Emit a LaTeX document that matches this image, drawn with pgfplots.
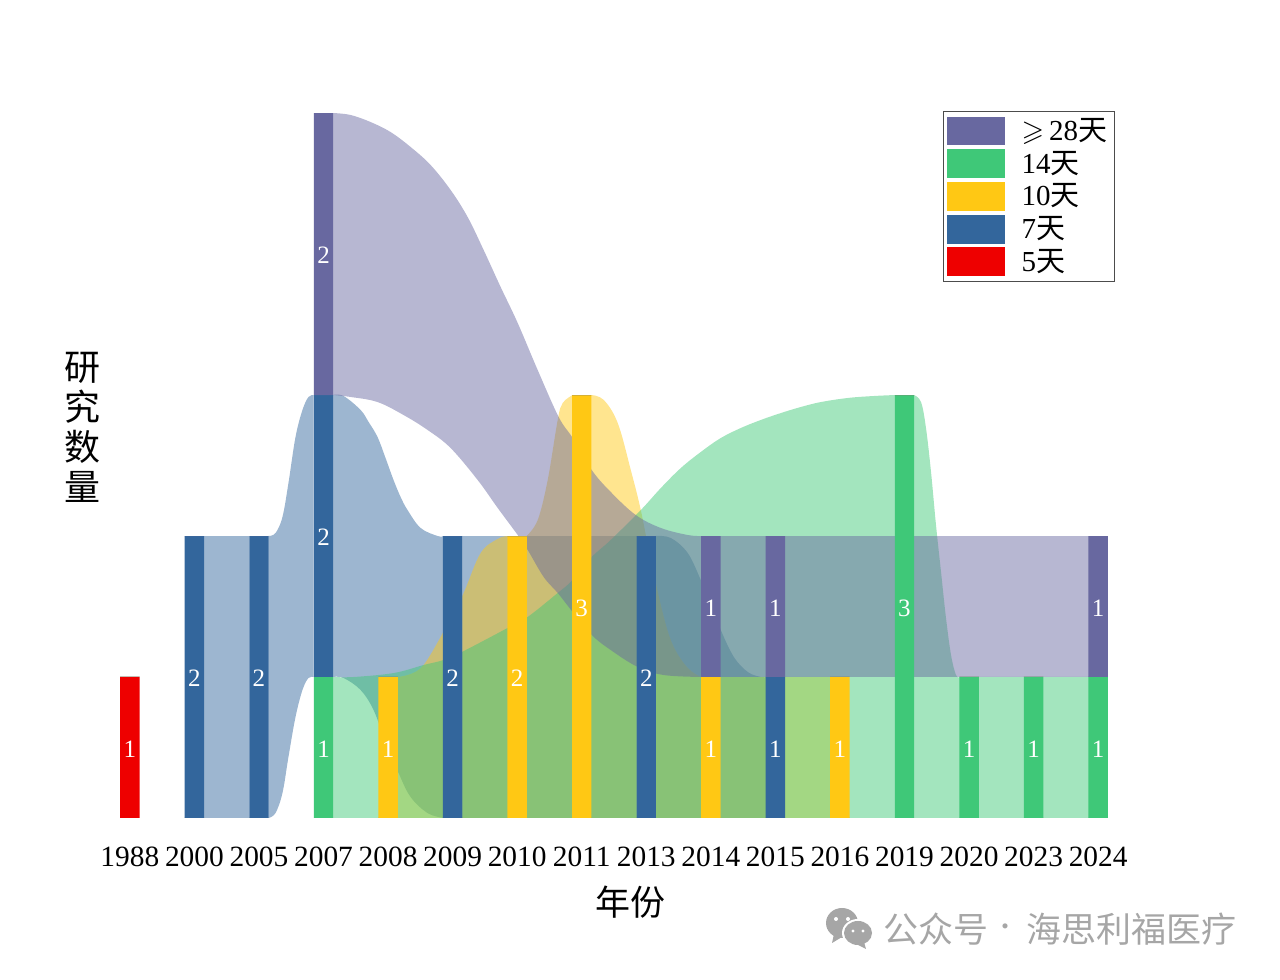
\documentclass[border=0pt]{standalone}
\usepackage{amssymb}
\usepackage{fontspec}
\usepackage{pgfplots}
\usepackage{pgfplotstable}
\pgfplotsset{compat=1.18}
\usepgfplotslibrary{fillbetween}
\setmainfont{Liberation Serif}
\newfontfamily\cjk{Noto Sans CJK SC}

\definecolor{c28}{HTML}{6868A0}
\definecolor{c14}{HTML}{3FC878}
\definecolor{c10}{HTML}{FFC814}
\definecolor{c7}{HTML}{33669C}
\definecolor{c5}{HTML}{EE0000}
\definecolor{wm}{HTML}{A6A6A6}

% number of studies per year, stacked from the bottom
\pgfplotstableread{
i d5 d14 d10 d7 d28
0 1 0 0 0 0
1 0 0 0 2 0
2 0 0 0 2 0
3 0 1 0 2 2
4 0 0 1 0 0
5 0 0 0 2 0
6 0 0 2 0 0
7 0 0 3 0 0
8 0 0 0 2 0
9 0 0 1 0 1
10 0 0 0 1 1
11 0 0 1 0 0
12 0 3 0 0 0
13 0 1 0 0 0
14 0 1 0 0 0
15 0 1 0 0 1
}\counts

% flow band: name, colour, upper edge, lower edge
\newcommand{\flow}[4]{%
  \addplot[name path=#1t,draw=none,smooth,tension=0.6,forget plot] coordinates {#3};
  \addplot[name path=#1b,draw=none,smooth,tension=0.6,forget plot] coordinates {#4};
  \addplot[fill=#2,fill opacity=0.48,draw=none,forget plot] fill between[of=#1t and #1b];
}
\newcommand{\seg}[3]{\node[text=white,yshift=-0.7pt,font=\fontsize{12.5}{14}\selectfont] at (axis cs:#1,#2) {#3};}

\begin{document}
\begin{tikzpicture}
\begin{axis}[
  at={(32.65pt,81pt)},anchor=south west,
  scale only axis,width=548.7pt,height=352.5pt,
  xmin=-1,xmax=16,ymin=0,ymax=5,
  axis line style={draw=none},
  major tick style={draw=none},
  ytick=\empty,
  xtick={0,...,15},
  xticklabels={1988,2000,2005,2007,2008,2009,2010,2011,2013,2014,2015,2016,2019,2020,2023,2024},
  xticklabel style={font=\fontsize{14.7}{16}\selectfont,text=black,yshift=-11pt},
  legend style={at={(0.8,1.003)},anchor=north west,draw=black!70,line width=0.5pt,
    font=\fontsize{14.5}{16}\selectfont,inner sep=1.5pt,row sep=-0.2pt,
    legend cell align=left,/tikz/every odd column/.append style={column sep=6.5pt}},
  legend image code/.code={\fill[draw=none,#1] (-0.5pt,-7.2pt) rectangle (28.5pt,7.2pt);},
]
% 7 days
\flow{ba}{c7}{(1.15,2)(1.85,2)}{(1.15,0)(1.85,0)}
\flow{bb}{c7}{(2.147,2)(2.256,2.021)(2.364,2.135)(2.457,2.376)(2.566,2.702)(2.674,2.894)(2.767,2.986)(2.845,3)}
  {(2.147,0)(2.256,0.035)(2.364,0.177)(2.457,0.433)(2.566,0.716)(2.674,0.908)(2.767,0.993)(2.845,1)}
\flow{bc}{c7}{(3.145,3)(3.310,2.993)(3.574,2.894)(3.698,2.809)(3.837,2.702)(3.961,2.553)(4.085,2.397)(4.194,2.277)(4.302,2.184)(4.504,2.057)(4.767,2)(4.860,2)}
  {(3.145,1)(3.310,0.993)(3.574,0.908)(3.775,0.766)(3.961,0.539)(4.163,0.319)(4.349,0.149)(4.612,0.035)(4.860,0)}
\flow{bd}{c7}{(5.15,2)(7.85,2)}{(5.15,0)(7.85,0)}
\flow{be}{c7}{(8.145,2)(8.380,1.986)(8.643,1.879)(8.845,1.688)(9.016,1.511)(9.155,1.333)(9.357,1.142)(9.574,1.035)(9.775,1)(9.853,1)}
  {(8.145,0)(9.853,0)}
% 10 days
\flow{ya}{c10}{(4.145,1)(4.349,1.021)(4.550,1.085)(4.814,1.284)(5.0,1.454)(5.171,1.596)(5.434,1.879)(5.698,1.979)(5.853,2)}
  {(4.145,0)(5.853,0)}
\flow{yb}{c10}{(6.145,2)(6.318,2.113)(6.473,2.397)(6.628,2.823)(6.705,2.943)(6.860,3)}{(6.145,0)(6.860,0)}
\flow{yc}{c10}{(7.145,3)(7.341,2.965)(7.558,2.801)(7.760,2.468)(7.915,2.184)(8.070,1.830)(8.271,1.426)(8.426,1.213)(8.643,1.064)(8.845,1)}
  {(7.145,0)(8.845,0)}
\flow{yd}{c10}{(9.15,1)(10.85,1)}{(9.15,0)(10.85,0)}
% 14 days
\flow{ga}{c14}{(3.145,1)(3.465,1)(4.085,1.028)(4.550,1.085)(4.860,1.121)(5.171,1.184)(5.853,1.348)(6.163,1.426)(6.628,1.596)(6.860,1.688)(7.155,1.851)(7.450,1.972)(7.915,2.184)(8.225,2.340)(8.535,2.482)(8.845,2.596)(9.155,2.695)(9.465,2.766)(9.775,2.823)(10.085,2.872)(10.395,2.915)(10.705,2.950)(11.124,2.979)(11.527,2.993)(11.868,3)}
  {(3.145,0)(11.868,0)}
\flow{gb}{c14}{(12.145,3)(12.256,2.950)(12.333,2.766)(12.411,2.454)(12.488,2.078)(12.566,1.745)(12.643,1.418)(12.721,1.156)(12.798,1.014)(12.860,1)}
  {(12.145,0)(12.860,0)}
\flow{gc}{c14}{(13.145,1)(14.855,1)}{(13.145,0)(14.855,0)}
% 28 days and more
\flow{pa}{c28}{(3.145,5)(3.419,4.986)(3.729,4.936)(4.039,4.865)(4.349,4.759)(4.659,4.631)(4.969,4.454)(5.233,4.262)(5.481,4.028)(5.744,3.766)(6.008,3.511)(6.318,3.177)(6.643,2.844)(6.860,2.695)(7.155,2.468)(7.450,2.312)(7.837,2.149)(8.225,2.057)(8.643,2.007)(8.860,2)}
  {(3.145,3)(3.419,2.986)(3.837,2.950)(4.240,2.858)(4.612,2.752)(4.969,2.624)(5.388,2.397)(5.698,2.199)(6.008,2.007)(6.163,1.901)(6.411,1.709)(6.628,1.596)(6.860,1.461)(7.155,1.298)(7.450,1.191)(7.868,1.071)(8.271,1.014)(8.860,1)}
\flow{pb}{c28}{(9.145,2)(9.855,2)}{(9.145,1)(9.855,1)}
\flow{pc}{c28}{(10.145,2)(14.855,2)}{(10.145,1)(14.855,1)}
% bars
\pgfplotsset{bars/.style={ybar,bar shift=0pt,bar width=9.7pt,stack plots=y,draw=none,forget plot}}
\addplot[bars,fill=c5] table[x=i,y=d5] {\counts};
\addplot[bars,fill=c14] table[x=i,y=d14] {\counts};
\addplot[bars,fill=c10] table[x=i,y=d10] {\counts};
\addplot[bars,fill=c7] table[x=i,y=d7] {\counts};
\addplot[bars,fill=c28] table[x=i,y=d28] {\counts};
% value labels
\seg{0}{0.5}{1}\seg{1}{1}{2}\seg{2}{1}{2}\seg{3}{0.5}{1}\seg{3}{2}{2}\seg{3}{4}{2}
\seg{4}{0.5}{1}\seg{5}{1}{2}\seg{6}{1}{2}\seg{7}{1.5}{3}\seg{8}{1}{2}
\seg{9}{0.5}{1}\seg{9}{1.5}{1}\seg{10}{0.5}{1}\seg{10}{1.5}{1}\seg{11}{0.5}{1}
\seg{12}{1.5}{3}\seg{13}{0.5}{1}\seg{14}{0.5}{1}\seg{15}{0.5}{1}\seg{15}{1.5}{1}
% legend
\addlegendimage{fill=c28}\addlegendentry{$\geqslant$\,28{\cjk 天}}
\addlegendimage{fill=c14}\addlegendentry{14{\cjk 天}}
\addlegendimage{fill=c10}\addlegendentry{10{\cjk 天}}
\addlegendimage{fill=c7}\addlegendentry{7{\cjk 天}}
\addlegendimage{fill=c5}\addlegendentry{5{\cjk 天}}
\end{axis}
% axis titles
\node[align=center,font=\cjk\fontsize{18}{20}\selectfont] at (41pt,276.5pt) {研\\究\\数\\量};
\node[font=\cjk\fontsize{17.5}{20}\selectfont] at (315pt,39pt) {年份};
% watermark
\node[anchor=west,inner sep=0pt,text=wm,font=\cjk\fontsize{17.5}{20}\selectfont] at (441.5pt,25.5pt) {公众号};
\node[inner sep=0pt,text=wm,font=\cjk\fontsize{12}{14}\selectfont] at (502.5pt,25pt) {·};
\node[anchor=west,inner sep=0pt,text=wm,font=\cjk\fontsize{17.5}{20}\selectfont] at (513pt,25.5pt) {海思利福医疗};
\fill[wm] (421pt,28.5pt) ellipse (8pt and 7.5pt);
\fill[wm] (417pt,23pt) -- (416pt,18.5pt) -- (421pt,21.5pt) -- cycle;
\fill[white] (429pt,23.5pt) ellipse (8pt and 7pt);
\fill[wm] (429pt,23.5pt) ellipse (7pt and 6pt);
\fill[wm] (432pt,19pt) -- (433pt,15.5pt) -- (428pt,18pt) -- cycle;
\fill[white] (418pt,30.5pt) circle (1pt) (424pt,30.5pt) circle (1pt);
\fill[white] (426.5pt,24.5pt) circle (0.8pt) (431.5pt,24.5pt) circle (0.8pt);
\pgfresetboundingbox
\path[use as bounding box] (0,0) rectangle (640pt,490pt);
\end{tikzpicture}
\end{document}
